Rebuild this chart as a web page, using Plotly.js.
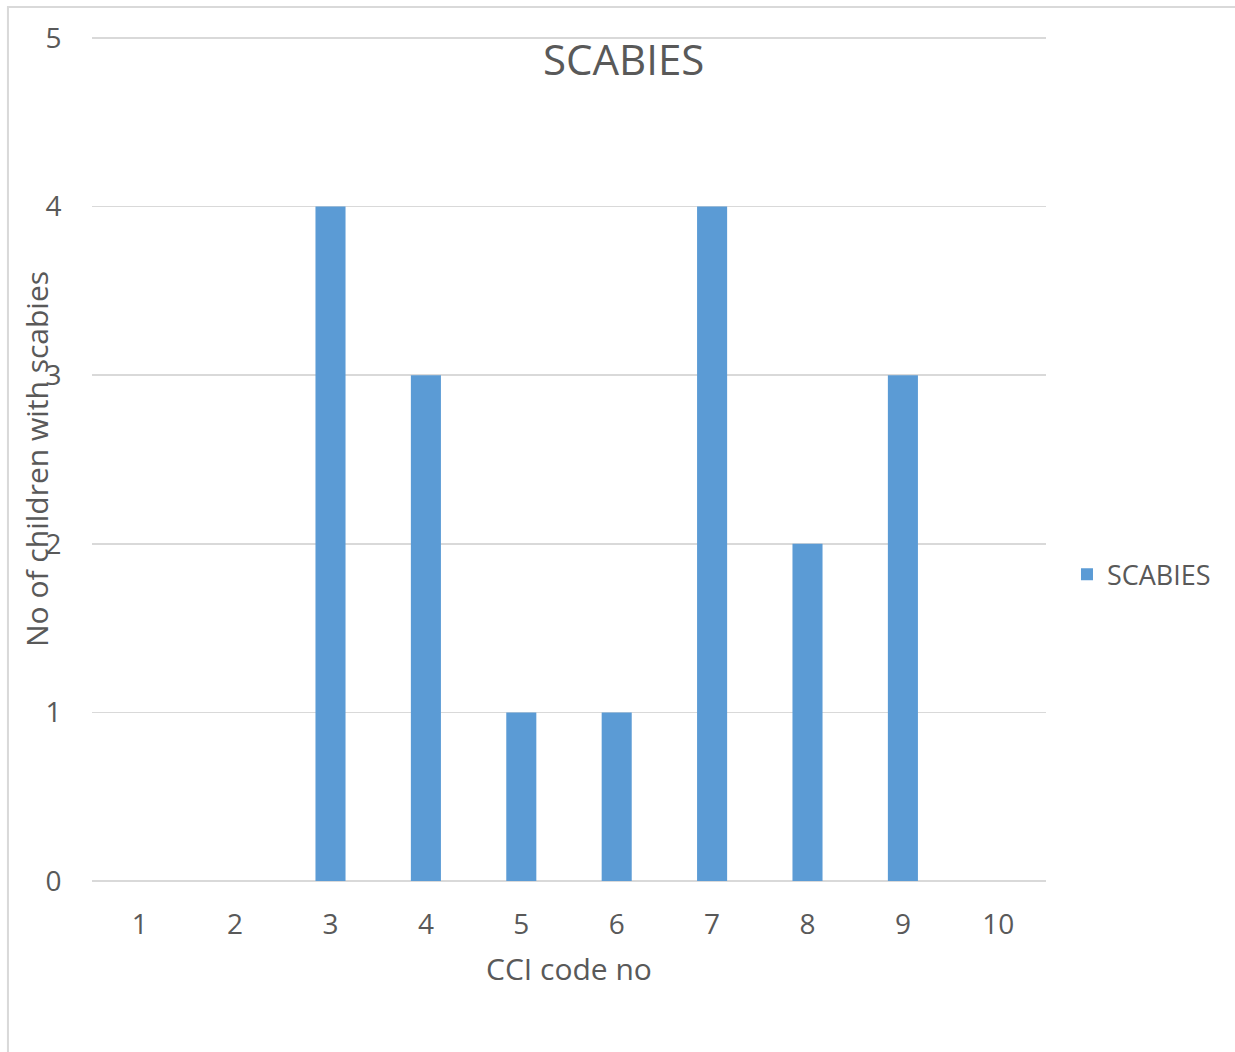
<!DOCTYPE html>
<html>
<head>
<meta charset="utf-8">
<script src="https://cdn.plot.ly/plotly-3.0.1.min.js"></script>
<style>html,body{margin:0;padding:0;background:#fff;}#chart{width:1235px;height:1052px;}</style>
</head>
<body>
<div id="chart"></div>
<script>
const categories = ["1","2","3","4","5","6","7","8","9","10"];
const scabiesCounts = [0,0,4,3,1,1,4,2,3,0];
const seriesName = "SCABIES";
const chartTitle = "SCABIES";
const xTitle = "CCI code no";
const yTitle = "No of children with scabies";
const yTicks = [0,1,2,3,4,5];

const font = "'Open Sans', 'Liberation Sans', sans-serif";
const textColor = "#595959";
const gridColor = "#d9d9d9";

const trace = {
  type: "bar",
  x: categories,
  y: scabiesCounts,
  name: seriesName,
  marker: {color: "#5b9bd5"},
  showlegend: true,
  hoverinfo: "x+y"
};

const layout = {
  width: 1235,
  height: 1052,
  paper_bgcolor: "#ffffff",
  plot_bgcolor: "#ffffff",
  font: {family: font, color: textColor},
  margin: {l: 92, r: 189, t: 37, b: 171, pad: 0},
  bargap: 0.685,
  title: {
    text: chartTitle,
    font: {family: font, size: 42, color: textColor},
    x: 0.505, xref: "container", xanchor: "center",
    y: 0.943, yref: "container", yanchor: "middle"
  },
  xaxis: {
    type: "category",
    tickfont: {family: font, size: 28, color: textColor},
    ticks: "outside", ticklen: 18, tickcolor: "rgba(0,0,0,0)",
    showgrid: false,
    showline: false,
    zeroline: false,
    title: {text: xTitle, font: {family: font, size: 30, color: textColor}, standoff: 18}
  },
  yaxis: {
    range: [0, 5.006],
    tickvals: yTicks,
    tickfont: {family: font, size: 28, color: textColor},
    ticks: "outside", ticklen: 24, tickcolor: "rgba(0,0,0,0)",
    showgrid: true, gridcolor: gridColor, gridwidth: 1.5,
    zeroline: true, zerolinecolor: gridColor, zerolinewidth: 2,
    showline: false
  },
  annotations: [{
    text: yTitle, textangle: -90,
    xref: "paper", yref: "paper",
    x: -0.0587, y: 0.5, xanchor: "center", yanchor: "middle",
    showarrow: false,
    font: {family: font, size: 30, color: textColor}
  }],
  legend: {
    x: 1.022, xanchor: "left",
    y: 0.363, yanchor: "middle",
    font: {family: font, size: 27, color: textColor},
    bgcolor: "rgba(0,0,0,0)"
  },
  shapes: [{
    type: "rect", xref: "paper", yref: "paper",
    x0: -0.0881, x1: 1.25, y0: -0.25, y1: 1.0356,
    line: {color: gridColor, width: 2}, fillcolor: "rgba(0,0,0,0)", layer: "below"
  }]
};

Plotly.newPlot("chart", [trace], layout, {displayModeBar: false, staticPlot: true});
</script>
</body>
</html>
